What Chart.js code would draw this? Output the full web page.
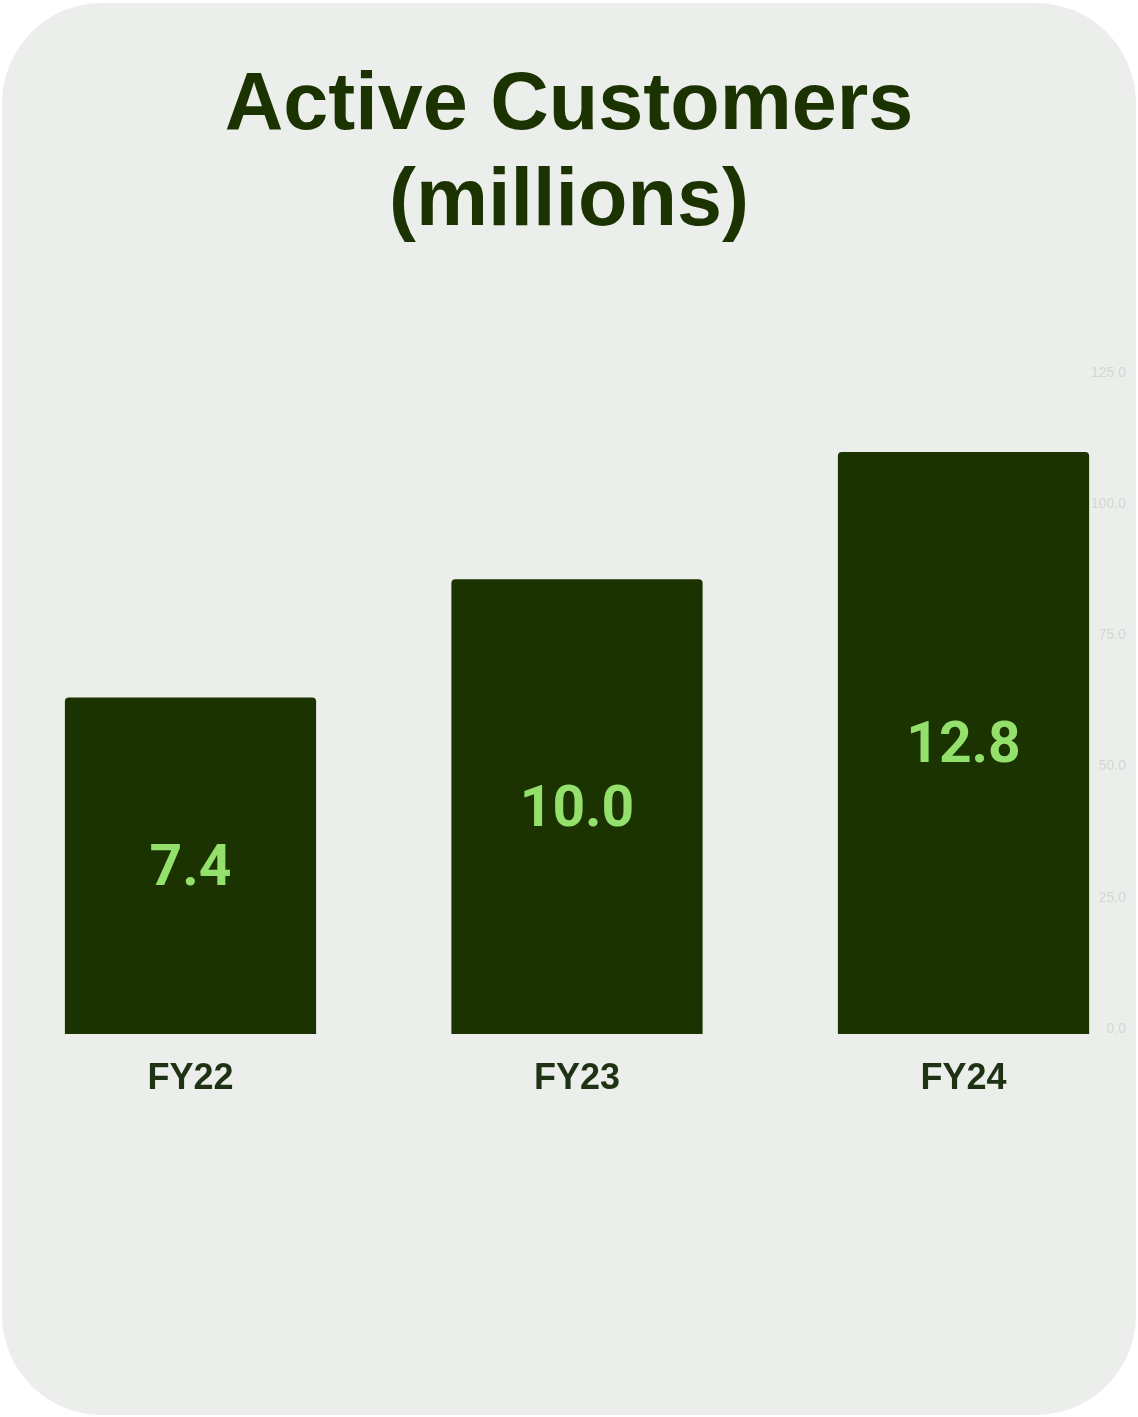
<!DOCTYPE html>
<html>
<head>
<meta charset="utf-8">
<title>Active Customers</title>
<script src="https://cdn.jsdelivr.net/npm/chart.js@4.4.1/dist/chart.umd.min.js"></script>
<style>
  html, body { margin: 0; background: #ffffff; }
  .card {
    position: absolute;
    left: 2px;
    top: 3px;
    width: 1134px;
    height: 1412px;
    border-radius: 100px;
    background: #eceeec;
    overflow: hidden;
  }
  canvas { display: block; }
</style>
</head>
<body>
<div class="card">
  <canvas id="customersChart" width="1134" height="1412"></canvas>
</div>
<script>
const titleLines = ['Active Customers', '(millions)'];
const categories = ['FY22', 'FY23', 'FY24'];
const activeCustomers = [7.4, 10.0, 12.8];
const tickValues = [0, 25, 50, 75, 100, 125];

const DARK_GREEN = '#1a3300';
const LIGHT_GREEN = '#93e06c';

// prints each bar's value in the middle of the bar
const barValueLabels = {
  id: 'barValueLabels',
  afterDatasetsDraw(chart) {
    const ctx = chart.ctx;
    const meta = chart.getDatasetMeta(0);
    ctx.save();
    ctx.font = 'bold 57px Roboto';
    ctx.fillStyle = LIGHT_GREEN;
    ctx.textAlign = 'center';
    ctx.textBaseline = 'middle';
    meta.data.forEach((bar, i) => {
      ctx.fillText(activeCustomers[i].toFixed(1), bar.x, (bar.y + bar.base) / 2 + 5);
    });
    ctx.restore();
  }
};

new Chart(document.getElementById('customersChart'), {
  type: 'bar',
  data: {
    labels: categories,
    datasets: [{
      data: activeCustomers,
      yAxisID: 'y',
      backgroundColor: DARK_GREEN,
      borderRadius: 4,
      borderSkipped: 'start',
      categoryPercentage: 1,
      barPercentage: 0.65,
      clip: false
    }]
  },
  options: {
    responsive: false,
    animation: false,
    events: [],
    layout: { padding: { top: 0, left: 0, right: 0, bottom: 311 } },
    plugins: {
      legend: { display: false },
      tooltip: { enabled: false },
      title: {
        display: true,
        text: titleLines,
        color: DARK_GREEN,
        font: { family: 'Liberation Sans', size: 81, weight: 'bold', lineHeight: 1.19 },
        padding: { top: 55, bottom: 122.6 }
      }
    },
    scales: {
      x: {
        offset: false,
        grid: { display: false, drawTicks: false },
        border: { display: false },
        ticks: {
          color: '#1f3314',
          padding: 23,
          font: { family: 'Liberation Sans', size: 36, weight: 'bold' }
        },
        afterFit: (axis) => { axis.height = 70; }
      },
      y: {
        position: 'left',
        min: 0,
        max: 14.53,
        grid: { display: false, drawTicks: false },
        border: { display: false },
        ticks: { display: false },
        afterFit: (axis) => { axis.width = 188.5; }
      },
      yTicks: {
        position: 'right',
        min: -1,
        max: 125,
        grid: { display: false, drawTicks: false },
        border: { display: false },
        afterBuildTicks: (axis) => { axis.ticks = tickValues.map(v => ({ value: v })); },
        afterFit: (axis) => { axis.width = 172.5; },
        ticks: {
          mirror: true,
          crossAlign: 'near',
          padding: 162.5,
          color: '#d3d6d3',
          font: { family: 'Liberation Sans', size: 14 },
          callback: (value) => Number(value).toFixed(1)
        }
      }
    }
  },
  plugins: [barValueLabels]
});
</script>
</body>
</html>
